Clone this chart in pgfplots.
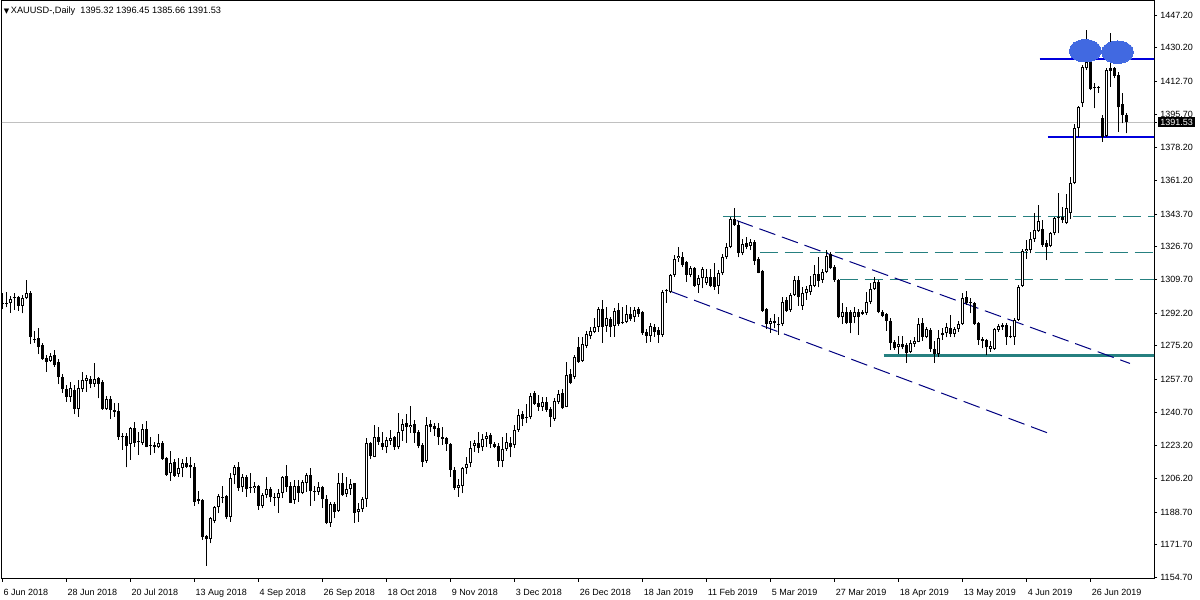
\documentclass[border=0pt]{standalone}
\usepackage{fontspec}
\setmainfont{Liberation Sans}
\newfontfamily\dejavu{DejaVu Sans}
\usepackage{pgfplots}
\pgfplotsset{compat=1.18}
\usepackage{pgfplotstable}

\definecolor{tealline}{RGB}{38,128,128}
\definecolor{navyline}{RGB}{0,0,128}
\definecolor{blueline}{RGB}{0,0,220}
\definecolor{ellblue}{RGB}{65,105,225}
\definecolor{bidgrey}{RGB}{192,192,192}

% daily OHLC, bar 0 = 6 Jun 2018
\pgfplotstableread{
i o h l c
0 1297.5 1302.5 1294.2 1297.0
1 1297.0 1303.3 1295.2 1297.6
2 1297.3 1301.1 1292.4 1299.4
3 1299.8 1302.5 1293.8 1300.2
4 1300.7 1301.1 1293.5 1296.1
5 1296.1 1301.6 1292.1 1299.9
6 1299.9 1309.4 1299.4 1302.5
7 1302.5 1303.7 1276.1 1279.9
8 1278.6 1283.1 1276.8 1278.2
9 1279.1 1284.3 1270.8 1274.7
10 1275.6 1276.5 1267.8 1268.2
11 1269.0 1270.4 1261.7 1267.0
12 1267.5 1271.3 1267.0 1269.9
13 1270.4 1273.0 1264.3 1265.2
14 1266.8 1268.2 1255.3 1259.1
15 1259.1 1260.5 1250.8 1252.6
16 1252.6 1254.8 1246.1 1248.7
17 1248.4 1256.5 1246.1 1253.1
18 1252.2 1254.8 1239.7 1242.3
19 1242.2 1257.4 1238.4 1253.1
20 1252.6 1261.6 1251.3 1257.4
21 1257.1 1260.0 1251.3 1258.6
22 1258.1 1259.5 1253.1 1255.3
23 1255.3 1266.4 1254.0 1258.1
24 1258.4 1259.1 1247.9 1255.3
25 1256.4 1257.4 1241.8 1242.3
26 1242.3 1249.1 1241.8 1247.5
27 1247.5 1249.1 1237.0 1241.8
28 1241.8 1245.6 1238.4 1240.8
29 1241.3 1245.3 1226.2 1228.0
30 1228.3 1229.7 1221.0 1227.6
31 1228.3 1229.7 1212.0 1223.3
32 1224.0 1233.1 1215.8 1232.6
33 1232.3 1235.4 1222.8 1224.8
34 1225.7 1230.6 1218.4 1225.0
35 1224.5 1234.5 1223.6 1231.8
36 1231.8 1235.9 1222.4 1222.8
37 1223.8 1228.0 1218.4 1223.3
38 1223.6 1225.3 1219.3 1222.4
39 1222.4 1229.3 1221.9 1224.8
40 1224.8 1225.7 1215.8 1216.3
41 1216.7 1217.6 1207.5 1208.0
42 1208.9 1220.7 1205.1 1214.4
43 1214.6 1216.3 1207.2 1207.5
44 1208.5 1216.7 1207.2 1211.8
45 1211.5 1216.3 1206.8 1214.4
46 1214.3 1217.6 1211.5 1212.4
47 1213.2 1217.6 1206.3 1212.0
48 1212.4 1214.0 1192.0 1194.2
49 1195.4 1199.9 1192.9 1194.7
50 1195.0 1195.4 1174.2 1175.6
51 1176.3 1176.8 1160.9 1174.6
52 1174.6 1186.0 1172.5 1185.5
53 1184.3 1191.9 1182.9 1191.2
54 1191.2 1198.1 1188.1 1197.1
55 1196.7 1202.3 1193.3 1196.2
56 1197.1 1197.6 1185.0 1186.0
57 1186.3 1208.9 1183.7 1206.3
58 1208.0 1213.2 1203.3 1212.0
59 1212.0 1214.9 1199.9 1201.1
60 1201.6 1208.3 1199.3 1207.1
61 1206.8 1208.0 1196.7 1200.6
62 1201.9 1209.2 1198.5 1201.1
63 1201.1 1204.5 1198.8 1202.3
64 1202.3 1202.8 1189.8 1191.9
65 1191.9 1198.8 1190.7 1197.6
66 1197.6 1207.1 1195.9 1200.6
67 1200.6 1201.6 1194.1 1196.4
68 1196.7 1198.5 1191.9 1195.9
69 1195.9 1200.6 1188.4 1198.8
70 1198.8 1207.5 1195.9 1206.8
71 1207.5 1213.2 1199.3 1201.9
72 1202.3 1204.5 1193.3 1193.6
73 1195.0 1205.4 1193.1 1202.3
74 1202.3 1205.4 1194.1 1198.8
75 1198.8 1205.4 1198.1 1204.5
76 1204.0 1208.9 1199.3 1208.0
77 1208.0 1211.5 1191.9 1199.9
78 1199.9 1202.3 1194.7 1199.3
79 1199.3 1204.5 1197.6 1201.9
80 1201.9 1202.3 1190.7 1195.4
81 1195.4 1197.6 1182.5 1183.2
82 1183.2 1194.1 1181.1 1192.9
83 1192.9 1194.1 1185.5 1188.9
84 1189.5 1208.9 1188.9 1203.7
85 1203.7 1208.9 1197.1 1197.6
86 1198.1 1207.1 1196.7 1200.6
87 1200.6 1205.8 1197.6 1203.3
88 1203.7 1204.0 1183.2 1188.4
89 1188.9 1193.3 1183.7 1190.2
90 1190.2 1196.7 1188.9 1195.4
91 1195.4 1227.1 1191.5 1224.8
92 1224.5 1225.3 1216.2 1217.9
93 1217.5 1234.0 1217.2 1227.6
94 1227.6 1232.8 1223.6 1225.3
95 1224.8 1230.5 1221.0 1222.7
96 1222.4 1227.9 1219.3 1226.2
97 1225.9 1231.4 1223.6 1227.1
98 1227.6 1228.3 1221.0 1222.4
99 1222.4 1240.4 1221.4 1230.5
100 1231.1 1236.9 1225.9 1234.5
101 1235.2 1239.7 1224.8 1233.1
102 1232.8 1243.9 1230.0 1234.0
103 1234.5 1236.6 1224.8 1229.7
104 1230.5 1231.4 1221.9 1223.1
105 1223.6 1224.5 1212.3 1214.9
106 1215.5 1238.0 1214.4 1234.0
107 1234.5 1236.6 1230.5 1233.1
108 1233.5 1235.2 1228.3 1231.7
109 1232.3 1234.9 1223.6 1227.6
110 1227.6 1233.1 1223.6 1226.9
111 1227.1 1227.9 1220.7 1224.1
112 1224.1 1224.5 1207.1 1210.6
113 1210.6 1212.0 1200.2 1201.1
114 1201.1 1205.8 1196.7 1202.8
115 1202.3 1212.0 1198.5 1211.5
116 1211.5 1217.2 1208.5 1213.7
117 1214.1 1225.9 1212.0 1221.9
118 1223.1 1226.2 1220.1 1224.5
119 1224.8 1230.5 1219.6 1221.9
120 1222.4 1229.3 1220.7 1226.6
121 1226.6 1230.5 1222.7 1228.3
122 1228.8 1229.7 1221.9 1224.1
123 1224.1 1225.3 1221.9 1222.7
124 1223.1 1224.8 1212.3 1215.5
125 1215.5 1227.6 1212.0 1221.4
126 1221.4 1230.0 1220.7 1225.3
127 1224.8 1227.9 1217.2 1222.7
128 1223.6 1234.0 1221.9 1231.4
129 1231.4 1242.1 1230.5 1239.2
130 1239.7 1241.5 1233.5 1236.9
131 1238.3 1244.9 1234.9 1237.8
132 1238.0 1250.5 1236.9 1249.1
133 1250.5 1251.9 1244.4 1244.9
134 1245.6 1249.6 1241.5 1243.5
135 1243.5 1248.4 1241.5 1246.0
136 1246.1 1248.7 1240.9 1241.8
137 1242.1 1243.2 1233.1 1238.3
138 1237.0 1247.9 1236.3 1246.7
139 1246.1 1252.2 1244.9 1250.1
140 1250.8 1252.5 1242.2 1242.7
141 1243.6 1266.9 1243.2 1260.0
142 1260.5 1263.0 1255.3 1256.0
143 1259.1 1270.4 1257.8 1269.5
144 1274.4 1279.9 1266.4 1267.0
145 1267.5 1279.6 1267.0 1276.1
146 1275.1 1283.1 1273.9 1281.3
147 1280.3 1285.1 1278.6 1283.1
148 1282.5 1289.5 1281.7 1285.1
149 1285.1 1295.2 1282.5 1294.2
150 1294.2 1299.0 1276.8 1285.1
151 1285.5 1295.2 1282.5 1289.5
152 1289.0 1290.3 1279.9 1285.1
153 1285.5 1294.7 1280.0 1293.5
154 1293.8 1297.3 1285.5 1286.5
155 1287.1 1295.2 1286.5 1287.7
156 1287.7 1296.4 1286.9 1291.7
157 1291.7 1295.2 1288.3 1289.0
158 1290.0 1295.5 1287.7 1293.8
159 1294.2 1295.5 1290.3 1291.7
160 1293.0 1293.5 1280.8 1281.7
161 1282.5 1283.8 1276.8 1280.3
162 1280.3 1286.9 1277.3 1285.5
163 1285.1 1286.5 1280.0 1282.5
164 1283.4 1285.1 1276.8 1280.8
165 1280.8 1304.2 1280.0 1303.3
166 1303.5 1304.6 1297.6 1303.8
167 1303.3 1312.5 1302.5 1312.0
168 1312.0 1322.4 1311.1 1320.2
169 1320.7 1326.4 1318.9 1321.9
170 1321.5 1324.1 1316.0 1317.2
171 1318.9 1319.5 1308.5 1312.0
172 1312.0 1316.7 1310.8 1315.5
173 1315.5 1316.0 1305.9 1306.3
174 1306.8 1312.0 1302.8 1310.3
175 1310.3 1316.0 1305.1 1315.0
176 1308.0 1315.0 1306.8 1311.1
177 1310.8 1315.0 1305.6 1306.3
178 1310.8 1318.1 1304.2 1306.0
179 1306.3 1314.6 1302.1 1312.9
180 1312.9 1322.9 1312.0 1321.2
181 1321.2 1328.8 1320.2 1326.7
182 1326.7 1342.3 1325.9 1340.9
183 1340.9 1346.7 1337.5 1338.0
184 1338.0 1340.3 1321.2 1323.6
185 1323.6 1330.6 1322.4 1328.1
186 1328.8 1331.9 1325.4 1326.7
187 1327.1 1330.6 1325.0 1329.3
188 1329.3 1330.2 1317.2 1319.5
189 1320.2 1321.2 1312.9 1313.2
190 1314.3 1314.6 1292.9 1293.5
191 1294.2 1294.7 1283.8 1286.5
192 1286.5 1289.5 1282.0 1288.3
193 1288.3 1291.7 1284.3 1286.9
194 1286.0 1290.3 1280.8 1286.5
195 1286.5 1300.7 1285.5 1298.1
196 1299.0 1300.4 1292.9 1293.5
197 1293.8 1302.5 1292.9 1301.6
198 1301.6 1311.5 1301.1 1309.4
199 1309.4 1311.5 1295.9 1300.4
200 1295.9 1305.6 1293.8 1302.5
201 1302.5 1306.3 1299.0 1304.6
202 1303.3 1311.5 1301.6 1306.8
203 1306.3 1317.2 1305.6 1312.5
204 1312.5 1321.2 1305.6 1309.1
205 1309.4 1315.0 1308.0 1313.7
206 1313.7 1325.0 1312.9 1321.9
207 1322.9 1324.1 1315.0 1315.5
208 1316.3 1317.2 1308.5 1309.4
209 1309.4 1309.8 1289.5 1290.3
210 1290.3 1297.3 1286.5 1292.9
211 1292.9 1295.2 1286.5 1287.2
212 1292.9 1293.8 1281.7 1287.2
213 1290.3 1295.2 1286.9 1292.9
214 1292.9 1294.2 1280.8 1290.3
215 1292.9 1293.8 1291.2 1291.7
216 1292.1 1303.3 1291.2 1298.1
217 1298.1 1308.0 1296.9 1304.6
218 1304.6 1311.1 1304.2 1308.5
219 1308.5 1309.4 1292.1 1292.9
220 1292.9 1293.8 1290.0 1290.7
221 1291.5 1292.4 1283.1 1288.3
222 1288.3 1289.5 1273.0 1276.8
223 1277.3 1278.2 1273.0 1273.9
224 1274.4 1280.3 1271.0 1276.1
225 1276.1 1280.3 1273.4 1274.4
226 1275.6 1276.5 1266.4 1271.3
227 1272.1 1278.2 1271.3 1276.5
228 1276.1 1280.0 1274.7 1277.8
229 1277.3 1289.5 1277.0 1286.5
230 1286.9 1289.5 1277.9 1279.9
231 1279.9 1285.1 1279.1 1283.8
232 1283.4 1284.3 1272.1 1273.4
233 1273.4 1277.9 1266.4 1270.9
234 1270.9 1283.4 1269.5 1279.1
235 1281.7 1284.3 1278.2 1280.8
236 1281.7 1286.9 1279.6 1284.8
237 1284.3 1291.2 1279.9 1281.3
238 1281.3 1285.1 1279.6 1283.8
239 1283.8 1288.3 1282.5 1286.5
240 1286.5 1302.5 1286.0 1299.9
241 1300.7 1303.9 1296.4 1297.6
242 1298.1 1299.9 1292.1 1297.3
243 1297.6 1298.1 1286.0 1286.5
244 1286.9 1287.7 1275.6 1278.2
245 1278.6 1279.6 1273.9 1277.9
246 1278.2 1278.6 1270.4 1274.4
247 1273.4 1277.9 1272.1 1275.1
248 1273.4 1284.3 1273.0 1283.8
249 1283.4 1286.5 1282.5 1285.5
250 1286.0 1286.9 1283.4 1284.8
251 1286.0 1286.9 1275.6 1279.6
252 1280.3 1285.5 1279.1 1279.6
253 1279.6 1289.5 1275.6 1288.6
254 1288.6 1306.8 1288.3 1305.9
255 1306.3 1325.4 1305.8 1324.6
256 1324.3 1330.2 1320.5 1325.4
257 1325.0 1334.5 1323.3 1330.6
258 1330.6 1344.1 1329.3 1335.4
259 1335.1 1348.4 1334.5 1340.3
260 1335.8 1340.6 1326.7 1327.6
261 1328.8 1330.2 1319.8 1326.7
262 1327.1 1334.6 1326.4 1333.7
263 1333.7 1342.0 1332.8 1341.5
264 1341.5 1354.5 1333.7 1342.4
265 1342.0 1347.6 1339.2 1340.6
266 1339.2 1354.1 1338.5 1346.7
267 1344.0 1363.2 1341.0 1360.0
268 1360.0 1390.5 1359.3 1388.3
269 1388.3 1399.9 1383.9 1399.2
270 1401.3 1421.2 1399.5 1420.3
271 1419.5 1439.4 1418.6 1422.9
272 1422.9 1423.8 1408.2 1408.6
273 1409.6 1411.7 1398.7 1409.1
274 1409.6 1410.3 1406.8 1409.1
275 1393.5 1395.2 1381.3 1383.9
276 1384.3 1419.5 1383.9 1418.6
277 1419.5 1437.7 1409.9 1418.3
278 1419.5 1420.3 1414.3 1415.5
279 1416.0 1417.7 1386.5 1399.2
280 1400.9 1406.5 1390.9 1395.2
281 1395.32 1396.45 1385.66 1391.53
}\candles

\pgfplotsset{candle/.style={only marks, mark=*, mark size=0pt,
    mark options={draw=none, fill=none},
    error bars/.cd, y dir=plus, y explicit, error mark=none}}

\begin{document}
\begin{tikzpicture}
\useasboundingbox (0,0) rectangle (600pt,300pt);
\begin{axis}[
    at={(1pt,10.5pt)}, anchor=south west,
    scale only axis, width=576pt, height=289pt,
    xmin=-0.18, xmax=287.8, ymin=1153.9, ymax=1454.5,
    axis line style={black, line width=0.5pt},
    tick style={black, line width=0.5pt},
    tick align=outside, major tick length=1.5pt,
    xtick pos=bottom, ytick pos=right, yticklabel pos=right,
    xtick={0,16,...,272},
    xticklabels={6 Jun 2018, 28 Jun 2018, 20 Jul 2018, 13 Aug 2018, 4 Sep 2018,
        26 Sep 2018, 18 Oct 2018, 9 Nov 2018, 3 Dec 2018, 26 Dec 2018,
        18 Jan 2019, 11 Feb 2019, 5 Mar 2019, 27 Mar 2019, 18 Apr 2019,
        13 May 2019, 4 Jun 2019, 26 Jun 2019},
    xticklabel style={anchor=north west, inner sep=0pt, yshift=-3.3pt, xshift=0.3pt},
    ytick={1154.7,1171.7,1188.7,1206.2,1223.2,1240.7,1257.7,1275.2,1292.2,
        1309.7,1326.7,1343.7,1361.2,1378.2,1395.7,1412.7,1430.2,1447.2},
    yticklabel style={anchor=west, inner sep=0pt, xshift=1.5pt,
        /pgf/number format/fixed, /pgf/number format/fixed zerofill,
        /pgf/number format/precision=2, /pgf/number format/1000 sep={},
        /pgf/number format/assume math mode=true},
    tick label style={font=\fontsize{4.5}{5}\selectfont},
    extra y ticks={1391.53},
    extra y tick style={yticklabel style={fill=black, text=white,
        inner xsep=1pt, inner ysep=1pt, xshift=-1pt}},
]
% marked tops
\addplot[only marks, draw=none, mark=*, mark size=5.6pt,
    mark options={xscale=1.42, fill=ellblue, draw=ellblue, line width=0pt}]
    coordinates {(270.6,1428.6) (278.7,1427.9)};

% levels
\addplot[tealline, line width=0.5pt, dash pattern=on 9pt off 3.5pt] coordinates {(180,1342.3) (290,1342.3)};
\addplot[tealline, line width=0.5pt, dash pattern=on 9pt off 3.5pt] coordinates {(189.2,1323.6) (290,1323.6)};
\addplot[tealline, line width=0.5pt, dash pattern=on 9pt off 3.5pt] coordinates {(209.2,1309.8) (290,1309.8)};
\addplot[tealline, line width=1.2pt] coordinates {(220.2,1270.1) (290,1270.1)};

% channel
\addplot[navyline, line width=0.5pt, dash pattern=on 8.5pt off 3.5pt] coordinates {(183.5,1340.3) (281.8,1266.0)};
\addplot[navyline, line width=0.5pt, dash pattern=on 8.5pt off 3.5pt] coordinates {(167.2,1303.3) (261.3,1229.8)};

% range
\addplot[blueline, line width=1pt] coordinates {(259.2,1424.3) (290,1424.3)};
\addplot[blueline, line width=1pt] coordinates {(261.25,1383.9) (290,1383.9)};

% bid line
\addplot[bidgrey, line width=0.5pt] coordinates {(-1,1391.53) (290,1391.53)};

% wicks
\addplot[candle, error bar style={black, line width=0.5pt}]
    table[x=i, y=l, y error plus expr=\thisrow{h}-\thisrow{l}] {\candles};
% bodies
\addplot[candle, error bar style={black, line width=1.5pt}]
    table[x=i, y expr={min(\thisrow{o},\thisrow{c})},
        y error plus expr={max(abs(\thisrow{c}-\thisrow{o}),0.5)}] {\candles};
% hollow up bodies
\addplot[candle, error bar style={white, line width=0.5pt}]
    table[x=i, y expr=\thisrow{o}+0.52,
        y error plus expr={max(\thisrow{c}-\thisrow{o}-1.04,0)}] {\candles};

\node[anchor=west, inner sep=0pt, font=\fontsize{4.6}{5}\selectfont]
    at ([xshift=0.8pt, yshift=-5pt]rel axis cs:0,1)
    {{\dejavu\fontsize{3.5}{4}\selectfont ▼}\,XAUUSD-,Daily\ \ 1395.32 1396.45 1385.66 1391.53};
\end{axis}
\end{tikzpicture}
\end{document}
